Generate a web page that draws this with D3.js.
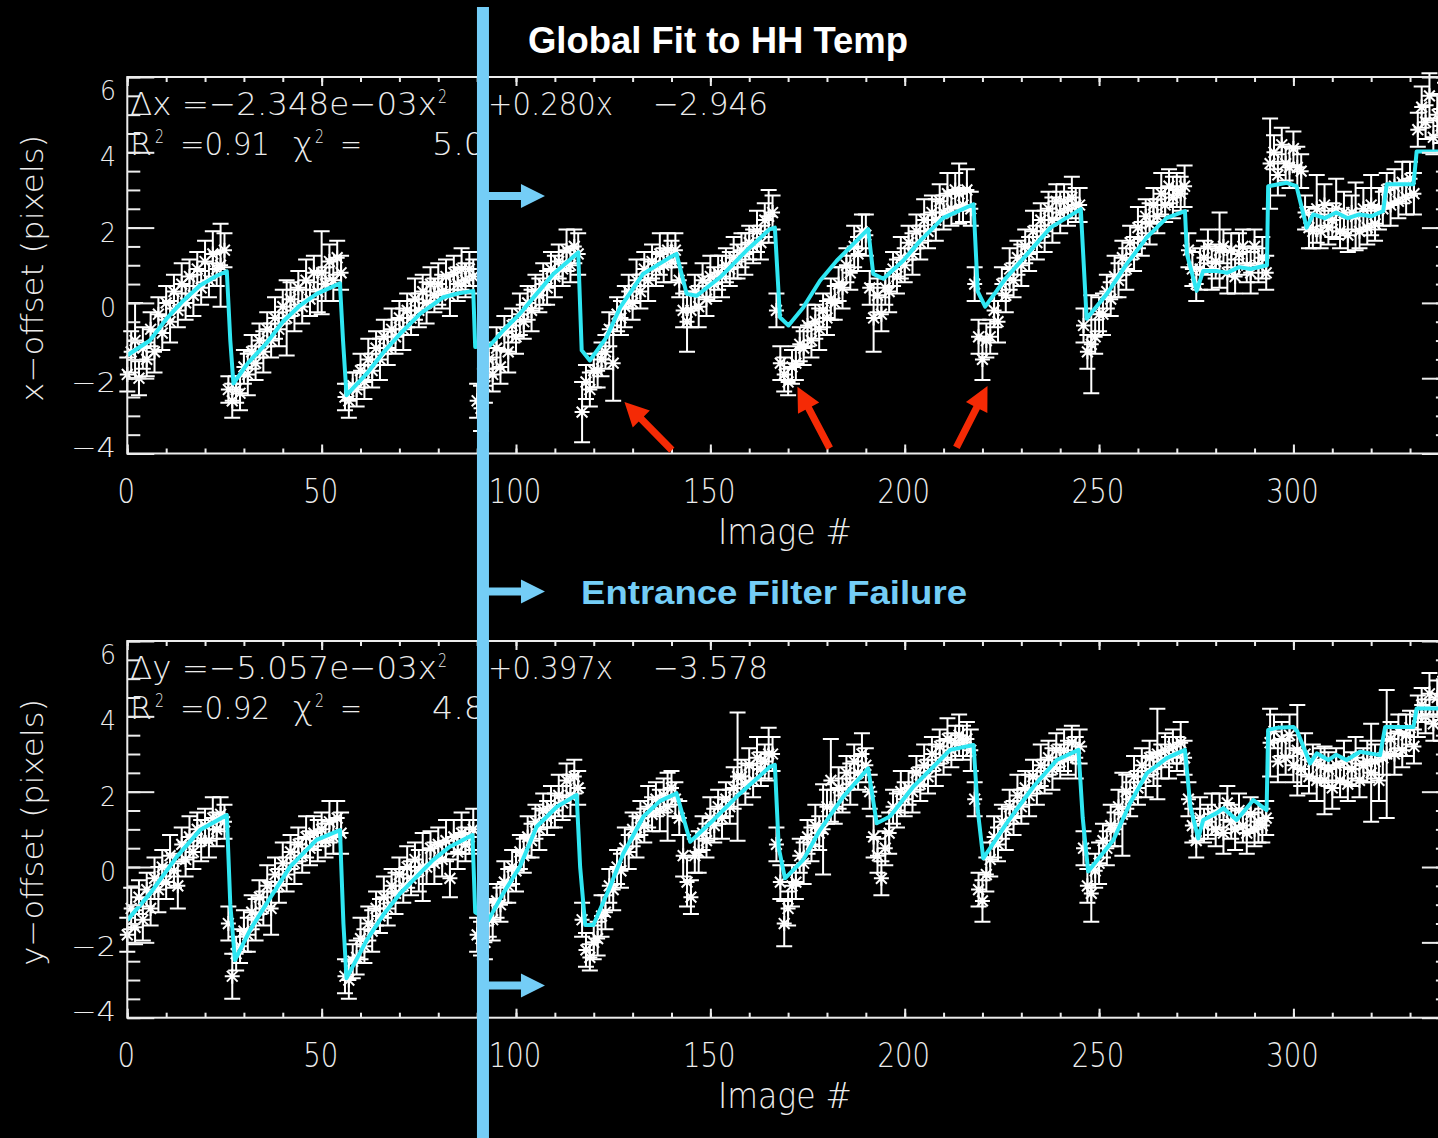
<!DOCTYPE html>
<html>
<head>
<meta charset="utf-8">
<script src="https://cdn.jsdelivr.net/npm/d3@7"></script>
<style>
  html, body { margin: 0; padding: 0; background: #000; }
  svg { display: block; }
</style>
</head>
<body>
<svg id="chart" width="1438" height="1138"></svg>
<script>
// ---- image numbers (one measurement per image) ----
const imageNo = d3.range(0, 340);

// ---- x-offset per image (pixels) ----
const xOffset = [
  -1.9,-1.3,-1.0,-2.0,-1.2,-1.5,-0.7,-1.3,-0.3,-0.8,
  0.0,-0.5,0.3,-0.2,0.5,0.0,0.7,0.2,0.9,0.4,
  1.1,0.6,1.3,0.9,1.0,1.4,-2.3,-2.6,-2.3,-2.4,
  -1.7,-1.9,-1.3,-1.6,-1.0,-1.3,-0.7,-1.0,-0.4,-0.7,
  -0.1,-0.4,0.1,-0.2,0.4,-0.1,0.6,0.1,0.8,0.3,
  0.8,0.5,1.1,0.6,1.2,0.8,-2.5,-2.6,-2.2,-2.3,
  -1.8,-2.1,-1.5,-1.8,-1.2,-1.5,-0.9,-1.2,-0.7,-0.9,
  -0.4,-0.7,-0.2,-0.4,0.1,-0.2,0.3,0.0,0.5,0.2,
  0.5,0.3,0.7,0.2,0.8,0.5,0.9,0.6,0.9,0.7,
  -2.6,-2.8,-2.2,-1.5,-1.9,-1.2,-1.7,-0.8,-1.3,-0.6,
  -0.9,-0.3,-0.5,0.0,-0.2,0.3,0.2,0.5,0.4,0.9,
  0.7,1.1,0.9,1.4,1.0,1.5,1.3,-2.9,-2.1,-2.3,
  -1.8,-1.8,-1.5,-1.3,-0.7,-1.6,-0.3,-0.4,-0.1,0.3,
  0.0,0.6,0.3,0.9,0.6,1.1,0.9,1.3,1.0,1.4,
  1.1,1.4,0.6,-0.2,-0.5,-0.2,0.3,-0.1,0.6,0.1,
  0.7,0.5,0.8,0.7,1.0,0.9,1.2,1.1,1.4,1.3,
  1.6,1.5,1.9,1.6,2.2,2.3,2.4,-0.2,-1.6,-1.9,
  -2.1,-1.7,-1.6,-1.1,-1.2,-0.6,-1.0,-0.5,-0.7,-0.2,
  -0.4,0.1,0.0,0.5,0.4,1.0,0.8,1.5,1.3,1.9,
  1.8,0.4,-0.4,0.2,-0.3,0.4,0.3,0.9,0.7,1.2,
  1.0,1.6,1.3,1.9,1.6,2.2,1.9,2.4,2.2,2.7,
  2.4,2.9,2.5,3.0,2.9,2.6,3.0,2.5,0.5,-0.9,
  -1.5,-1.0,-0.9,-0.2,-0.5,0.5,0.2,0.9,0.6,1.2,
  1.0,1.5,1.3,1.9,1.6,2.2,1.9,2.5,2.2,2.7,
  2.4,2.7,2.5,2.8,2.6,2.6,-0.6,-1.3,-1.1,-0.9,
  -0.3,-0.3,0.3,0.1,0.7,0.6,1.2,0.9,1.6,1.3,
  2.0,1.7,2.3,2.1,2.6,2.3,2.9,2.6,3.1,2.8,
  3.0,2.9,3.1,1.4,0.9,0.5,0.9,1.2,1.5,0.9,
  1.1,1.4,1.5,0.8,1.4,0.7,1.3,1.5,1.0,0.8,
  1.5,1.0,1.2,0.8,3.7,4.0,3.4,4.2,3.7,3.6,
  4.1,3.6,3.5,2.4,2.0,1.9,2.5,1.9,2.6,2.0,
  2.2,2.5,1.9,2.4,1.8,2.4,2.3,1.9,2.5,2.0,
  2.6,2.1,2.5,2.5,3.0,2.6,3.1,2.7,3.2,2.8,
  3.3,2.9,4.6,5.2,4.8,5.5,4.4,5.0,4.7,5.3
];
const xError = [
  0.45,0.55,1.0,0.45,0.55,0.45,0.45,0.55,0.45,0.45,
  0.45,0.55,0.45,0.45,0.55,0.45,0.45,0.55,0.45,0.45,
  0.55,0.45,0.6,0.45,1.1,0.45,0.35,0.45,0.35,0.45,
  0.45,0.55,0.45,0.45,0.45,0.55,0.45,0.45,0.55,0.45,
  0.45,1.0,0.45,0.55,0.45,0.45,0.55,0.45,0.45,0.55,
  1.1,0.45,0.45,0.55,0.45,0.45,0.35,0.45,0.35,0.45,
  0.45,0.45,0.55,0.45,0.45,0.55,0.45,0.45,0.55,0.45,
  0.45,0.55,0.45,0.45,0.55,0.45,0.45,0.55,0.45,0.45,
  0.55,0.45,0.45,0.55,0.45,0.45,0.55,0.45,0.45,0.45,
  0.45,0.6,0.45,0.45,0.45,0.55,0.45,0.45,0.55,0.45,
  0.45,0.55,0.45,0.45,0.55,0.45,0.45,0.55,0.45,0.45,
  0.55,0.45,0.45,0.55,0.45,0.45,0.55,0.8,0.45,0.45,
  0.45,0.45,0.45,0.45,0.45,1.0,0.45,0.45,0.55,0.45,
  0.45,0.55,0.45,0.45,0.55,0.45,0.45,0.55,0.45,0.45,
  0.55,0.45,0.45,0.45,0.8,0.45,0.45,0.55,0.45,0.45,
  0.55,0.45,0.45,0.55,0.45,0.45,0.55,0.45,0.45,0.55,
  0.45,0.45,0.55,0.45,0.45,0.7,0.45,0.45,0.45,0.45,
  0.35,0.45,0.45,0.45,0.45,0.55,0.45,0.45,0.55,0.45,
  0.45,0.55,0.45,0.45,0.55,0.45,0.45,0.55,0.45,0.45,
  0.55,0.45,0.9,0.45,0.45,0.45,0.55,0.45,0.45,0.55,
  0.45,0.45,0.55,0.45,0.45,0.55,0.45,0.45,0.55,0.45,
  0.45,0.55,0.45,0.45,0.8,0.45,0.55,0.45,0.45,0.45,
  0.55,0.45,0.45,0.45,0.55,0.45,0.45,0.55,0.45,0.45,
  0.55,0.45,0.45,0.55,0.45,0.45,0.55,0.45,0.6,0.45,
  0.55,0.45,0.45,0.55,0.45,0.45,0.45,0.45,1.3,0.45,
  0.45,0.55,0.45,0.45,0.55,0.45,0.45,0.55,0.45,0.45,
  0.55,0.45,0.45,0.55,0.45,0.45,0.55,0.45,0.45,0.55,
  0.45,0.45,0.55,0.45,0.45,0.45,0.55,0.45,0.45,0.55,
  0.45,1.0,0.45,0.55,0.45,0.45,0.55,0.45,0.45,0.55,
  0.45,0.45,0.55,0.45,1.2,0.45,0.55,0.45,0.45,0.55,
  0.45,0.55,0.45,0.45,0.55,0.45,0.9,0.45,0.55,0.45,
  0.45,0.8,0.45,0.55,0.45,0.45,0.9,0.45,0.55,0.45,
  0.8,0.45,0.55,0.45,0.45,0.55,0.45,0.45,0.55,0.45,
  0.45,0.55,0.45,0.55,0.45,0.6,0.45,0.55,0.45,0.55
];

// ---- y-offset per image (pixels) ----
const yOffset = [
  -1.8,-1.1,-1.6,-0.8,-1.4,-0.6,-1.1,-0.3,-0.6,0.0,
  -0.4,0.3,-0.1,-0.5,0.6,0.2,0.8,0.4,1.0,0.7,
  1.1,0.7,1.3,1.0,1.4,1.2,-1.5,-2.9,-2.3,-2.1,
  -1.7,-1.8,-1.2,-1.4,-0.8,-1.1,-0.5,-1.1,-0.2,-0.5,
  0.1,-0.2,0.4,0.1,0.6,0.3,0.8,0.5,0.9,0.7,
  1.0,0.7,1.2,0.8,1.3,0.9,-2.9,-3.0,-2.5,-2.4,
  -1.9,-2.1,-1.5,-1.7,-1.1,-1.3,-0.8,-1.1,-0.5,-0.7,
  -0.2,-0.5,0.0,-0.3,0.2,-0.1,0.0,0.0,0.5,0.1,
  0.6,0.2,0.7,-0.3,0.8,0.4,0.9,0.6,0.8,1.0,
  -1.8,-1.9,-2.0,-1.4,-1.4,-0.9,-1.0,-0.4,-0.5,0.0,
  -0.1,0.4,0.3,0.8,0.7,1.2,1.0,1.5,1.3,1.6,
  1.5,1.9,1.7,2.3,1.9,2.4,2.1,-1.4,-2.2,-2.4,
  -2.0,-1.9,-1.3,-1.2,-0.5,-0.6,0.0,-0.1,0.5,0.4,
  1.0,0.8,1.3,1.1,1.6,1.4,1.8,1.5,1.9,1.6,
  2.1,1.8,1.3,0.3,-0.4,-0.8,0.3,0.4,0.9,0.7,
  1.3,1.1,1.6,1.3,1.8,1.6,2.1,2.4,2.4,2.2,
  2.7,2.3,2.9,2.6,2.8,3.0,3.0,0.6,-0.4,-1.5,
  -1.1,-0.5,-0.4,0.3,0.1,0.8,0.6,1.1,0.9,1.0,
  1.6,2.3,1.6,2.1,1.9,2.5,2.2,2.8,2.5,3.0,
  2.7,2.0,0.8,0.3,-0.3,0.5,0.9,1.6,1.5,2.0,
  1.8,2.1,2.0,2.5,2.2,2.7,2.4,3.0,2.7,3.2,
  2.9,3.4,3.1,3.3,3.5,3.3,3.4,3.1,1.8,-0.6,
  -0.9,-0.2,0.2,0.8,0.6,1.2,1.0,1.6,1.3,1.9,
  1.6,2.1,1.9,2.4,2.1,2.7,2.4,2.9,2.6,3.1,
  2.8,3.1,2.9,3.3,2.9,3.2,0.5,-0.5,-0.7,-0.1,
  0.1,0.7,0.5,1.1,1.0,1.6,1.4,2.0,1.8,2.4,
  2.1,2.7,2.4,2.9,2.6,3.0,2.8,3.1,2.9,3.2,
  3.0,3.3,2.9,1.8,1.1,0.7,1.3,1.1,1.2,1.4,
  1.0,1.5,0.9,1.7,1.2,1.0,1.5,1.1,0.9,1.4,
  1.0,1.2,1.1,1.3,3.3,3.6,2.8,3.4,2.9,3.5,
  2.7,3.1,2.6,3.0,2.4,2.8,2.3,2.7,2.3,2.6,
  2.1,2.7,2.3,2.8,2.2,2.6,2.9,2.3,2.7,2.8,
  2.5,2.8,2.3,2.9,3.0,3.4,3.0,3.6,3.1,3.5,
  3.7,3.2,4.0,4.3,4.0,4.6,3.8,4.5,3.9,4.6
];
const yError = [
  0.45,0.55,0.45,0.45,0.55,0.45,0.45,0.55,0.6,0.45,
  0.45,0.55,0.45,0.6,0.45,0.45,0.55,0.45,0.45,0.55,
  0.45,0.45,0.55,0.45,0.45,0.45,0.45,0.6,0.45,0.45,
  0.55,0.45,0.45,0.55,0.45,0.45,0.55,0.7,0.45,0.45,
  0.55,0.45,0.45,0.55,0.45,0.45,0.55,0.45,0.45,0.55,
  0.45,0.45,0.55,0.45,0.45,0.55,0.45,0.5,0.45,0.45,
  0.55,0.45,0.45,0.55,0.45,0.45,0.55,0.45,0.45,0.55,
  0.45,0.45,0.55,0.45,0.45,0.55,0.9,0.45,0.45,0.55,
  0.45,0.45,0.55,0.5,0.45,0.45,0.55,0.45,0.45,0.55,
  0.45,0.45,0.45,0.45,0.55,0.45,0.45,0.55,0.45,0.45,
  0.55,0.45,0.45,0.55,0.45,0.45,0.55,0.45,0.45,0.55,
  0.45,0.55,0.45,0.45,0.55,0.45,0.45,0.45,0.45,0.35,
  0.45,0.45,0.55,0.45,0.45,0.55,0.45,0.45,0.55,0.45,
  0.45,0.55,0.45,0.45,0.55,0.45,0.45,0.55,0.45,0.9,
  0.45,0.45,0.45,0.55,0.65,0.45,0.45,0.55,0.45,0.45,
  0.55,0.45,0.45,0.55,0.45,0.45,0.55,1.7,0.45,0.55,
  0.45,0.45,0.55,0.45,0.45,0.7,0.45,0.45,0.45,0.6,
  0.45,0.55,0.45,0.45,0.55,0.45,0.45,0.55,0.45,1.2,
  0.45,1.1,0.45,0.55,0.45,0.45,0.55,0.45,0.45,0.55,
  0.45,0.45,0.55,0.45,0.45,0.45,0.55,0.45,0.45,0.55,
  0.45,0.45,0.55,0.45,0.45,0.55,0.45,0.45,0.55,0.45,
  0.45,0.55,0.45,0.45,0.55,0.45,0.45,0.55,0.45,0.45,
  0.55,0.45,0.45,0.55,0.45,0.45,0.55,0.45,0.45,0.55,
  0.45,0.45,0.55,0.45,0.45,0.55,0.45,0.45,0.55,0.45,
  0.45,0.55,0.45,0.45,0.55,0.45,0.45,0.45,0.75,0.45,
  0.55,0.45,0.45,0.55,0.45,0.45,1.1,0.45,0.45,0.55,
  0.45,0.45,0.55,0.45,0.45,1.2,0.45,0.45,0.55,0.45,
  0.45,0.55,0.45,0.45,0.45,0.45,0.55,0.45,0.45,0.55,
  0.45,0.45,0.55,0.45,0.45,0.55,0.45,0.45,0.55,0.45,
  0.45,0.55,0.45,0.45,0.9,0.45,0.55,0.45,0.45,0.55,
  0.45,1.2,0.45,0.55,0.45,0.45,0.55,0.45,0.9,0.45,
  0.55,0.45,0.45,0.55,0.45,0.45,0.55,0.45,0.45,0.55,
  1.3,0.45,0.55,0.45,1.7,0.45,0.55,0.45,0.45,0.55,
  0.45,0.45,0.55,0.45,0.45,0.55,0.45,0.45,0.55,0.45
];

// ---- global fit curves: [image #, offset] vertices ----
const xFit = [
  [0,-1.39],[5.8,-1.0],[10.1,-0.42],[14.4,0.06],[18.7,0.46],[23,0.72],[25.6,0.84],[26.5,-1.0],[27.3,-2.14],
  [31,-1.6],[35.9,-1.06],[40,-0.5],[44.4,-0.07],[48.7,0.24],[54.7,0.52],[55.5,-1.0],[56.4,-2.45],
  [61.6,-1.88],[66,-1.3],[70.2,-0.82],[75.3,-0.29],[81.3,0.15],[85,0.25],[89,0.32],[89.5,-1.17],
  [93.3,-1.13],[97,-0.7],[101,-0.29],[105.3,0.24],[109.6,0.77],[115.6,1.3],[116,1.34],[116.9,-1.26],
  [119,-1.53],[123.3,-0.91],[126.8,-0.12],[132.7,0.77],[139.6,1.21],[141.3,1.3],[143.9,0.24],[146.5,0.19],
  [152.5,0.68],[159.3,1.39],[165.3,1.96],[166.6,2.0],[167.9,-0.38],[170.1,-0.6],[173.9,-0.12],[178.2,0.59],
  [182.5,1.12],[190.2,1.92],[190.6,1.96],[191.9,0.77],[194.5,0.64],[199.6,1.12],[203.9,1.64],[209.9,2.26],
  [217.7,2.62],[218.8,0.3],[220.7,-0.1],[226.2,0.68],[233.1,1.48],[237.5,2.0],[245.3,2.49],[246.8,-0.42],
  [252,0.24],[257.1,1.03],[262.3,1.74],[267.4,2.26],[272.1,2.44],[272.6,1.3],[275.1,0.32],[276.8,0.85],
  [280,0.85],[283,0.8],[286,0.95],[289,0.9],[293.2,1.0],[293.5,3.1],[298.3,3.19],[300.8,3.1],[303.4,2.0],
  [305.1,2.35],[308,2.25],[311,2.4],[314,2.25],[317,2.35],[320,2.3],[323.1,2.44],[324,3.15],[330.9,3.15],
  [331.7,4.02],[340,4.02]
];
const yFit = [
  [0,-1.41],[5.9,-0.70],[12.7,0.27],[18.7,0.98],[25.6,1.38],[26.5,-1.0],[27.7,-2.47],[31.6,-1.67],
  [35.9,-0.96],[41.9,0.01],[48.7,0.72],[54.7,0.98],[55.6,-1.5],[56.4,-2.95],[61.6,-1.94],[66,-1.25],
  [70.2,-0.70],[78.7,0.19],[83,0.54],[88.8,0.85],[89.5,-1.2],[92.9,-1.41],[96.7,-0.70],[101,0.01],
  [105.3,1.07],[110.5,1.6],[115.6,1.91],[116.5,0],[117.8,-1.54],[119.9,-1.54],[124.2,-0.52],[127.6,0.36],
  [132.8,1.34],[137,1.75],[141.3,1.96],[144.8,0.67],[149.9,1.16],[156.8,1.87],[165.3,2.66],[166.6,2.71],
  [167.6,0.5],[169.2,-0.30],[173.9,0.19],[178.2,0.98],[184.2,1.87],[190.6,2.62],[192.8,1.16],[196.2,1.34],
  [202.2,2.13],[209.1,2.84],[211.7,3.11],[217.7,3.24],[218.8,1.5],[220.2,0.23],[226.2,1.16],[233.1,2.13],
  [239.1,2.84],[244.7,3.11],[245.8,1.3],[247.2,-0.12],[253.7,0.72],[258,1.7],[262.3,2.49],[267.4,2.89],
  [272.1,3.11],[273.5,1.6],[275.5,0.76],[276.8,1.25],[280.2,1.43],[282,1.56],[285.4,1.25],[289.7,1.78],
  [293.1,1.51],[293.5,3.64],[296,3.7],[300,3.72],[301,3.6],[304.3,2.75],[306,3.02],[309,2.84],[311,2.98],
  [313.7,2.84],[317.1,3.06],[322.3,2.97],[323.6,3.72],[330.9,3.72],[331.7,4.21],[340,4.21]
];

// ---- axes ----
const xTicks = [0, 50, 100, 150, 200, 250, 300];
const yTicks = [-4, -2, 0, 2, 4, 6];
const filterFailureImage = 91.5;

// red arrows in the x-offset panel: [tail image, tail offset, tip image, tip offset]
const redArrows = [
  [140.1, -3.91, 127.9, -2.63],
  [180.7, -3.86, 172.4, -2.23],
  [213.3, -3.84, 221.3, -2.21]
];

// ---- styling ----
const AX = "#ececec";
const CYAN = "#2fe6f2";
const SKY = "#74cdf6";
const RED = "#f52a05";
const HFONT = '"DejaVu Sans", sans-serif';
const BFONT = '"Liberation Sans", Arial, sans-serif';

const svg = d3.select("#chart");
svg.append("rect").attr("width", 1438).attr("height", 1138).attr("fill", "#000");

const x = d3.scaleLinear().domain([0, 340]).range([127.3, 1448.9]);

function label(g, str, px, py, size, len, anchor) {
  const t = g.append("text")
    .attr("x", px).attr("y", py)
    .attr("fill", AX)
    .attr("font-family", HFONT)
    .attr("font-weight", 200)
    .attr("font-size", size)
    .attr("text-anchor", anchor || "start")
    .text(str);
  if (len) t.attr("textLength", len).attr("lengthAdjust", "spacingAndGlyphs");
  return t;
}

const panels = [
  { vals: xOffset, errs: xError, fit: xFit, y: d3.scaleLinear().domain([-4, 6]).range([453.5, 77]),
    title: "x\u2212offset (pixels)",
    eq: ["\u0394x =\u22122.348e\u221203x", "+0.280x", "\u22122.946"], r2: "=0.91", chi: "5.0" },
  { vals: yOffset, errs: yError, fit: yFit, y: d3.scaleLinear().domain([-4, 6]).range([1017.7, 641]),
    title: "y\u2212offset (pixels)",
    eq: ["\u0394y =\u22125.057e\u221203x", "+0.397x", "\u22123.578"], r2: "=0.92", chi: "4.8" }
];

// asterisk symbol
const r = 7.5, a = r * 0.72;
const starPath = `M${-r},0H${r}M0,${-r}V${r}M${-a},${-a}L${a},${a}M${-a},${a}L${a},${-a}`;

panels.forEach((p, pi) => {
  const y = p.y;
  const g = svg.append("g");
  const y0 = y(-4), y1 = y(6);

  // measurements: error bars + asterisks
  const pts = imageNo.map(i => ({ i, v: p.vals[i], e: p.errs[i] }));
  const cap = 8;
  g.append("g").attr("stroke", "#fff").attr("stroke-width", 2).attr("fill", "none")
    .selectAll("path.err").data(pts).join("path")
    .attr("d", d => {
      const cx = x(d.i), ya = y(d.v + d.e), yb = y(d.v - d.e);
      return `M${cx},${ya}V${yb}M${cx - cap},${ya}H${cx + cap}M${cx - cap},${yb}H${cx + cap}`;
    });
  g.append("g").attr("stroke", "#fff").attr("stroke-width", 2).attr("fill", "none")
    .selectAll("path.pt").data(pts).join("path")
    .attr("transform", d => `translate(${x(d.i)},${y(d.v)})`)
    .attr("d", starPath);

  // fit curve
  g.append("path").datum(p.fit)
    .attr("fill", "none").attr("stroke", CYAN).attr("stroke-width", 4)
    .attr("stroke-linejoin", "round")
    .attr("d", d3.line().x(d => x(d[0])).y(d => y(d[1])));

  // frame and ticks
  g.append("rect").attr("x", x(0)).attr("y", y1).attr("width", x(340) - x(0)).attr("height", y0 - y1)
    .attr("fill", "none").attr("stroke", AX).attr("stroke-width", 2);

  const tickAxis = (axis, tx, ty) => g.append("g")
    .attr("transform", `translate(${tx},${ty})`)
    .attr("color", AX).attr("stroke-width", 2)
    .call(axis)
    .call(s => s.select(".domain").remove())
    .call(s => s.selectAll("text").remove());

  const xMinor = d3.range(0, 341, 10);
  const yMinor = d3.range(-4, 6.01, 0.5);
  tickAxis(d3.axisBottom(x).tickValues(xMinor).tickSize(-5), 0, y0);
  tickAxis(d3.axisBottom(x).tickValues(xTicks).tickSize(-9), 0, y0);
  tickAxis(d3.axisTop(x).tickValues(xMinor).tickSize(-5), 0, y1);
  tickAxis(d3.axisTop(x).tickValues(xTicks).tickSize(-9), 0, y1);
  tickAxis(d3.axisLeft(y).tickValues(yMinor).tickSize(-13), x(0), 0);
  tickAxis(d3.axisLeft(y).tickValues(yTicks).tickSize(-27), x(0), 0);
  tickAxis(d3.axisRight(y).tickValues(yMinor).tickSize(-13), x(340), 0);
  tickAxis(d3.axisRight(y).tickValues(yTicks).tickSize(-27), x(340), 0);

  // tick labels
  xTicks.forEach(t => label(g, String(t), x(t) - 1, y0 + 49, 34, String(t).length * 17.5, "middle"));
  yTicks.forEach(t => {
    const off = t === 6 ? 13 : (t === -4 ? -7 : 4);
    const s = t < 0 ? "\u2212" + Math.abs(t) : String(t);
    label(g, s, 116, y(t) + off + 10, 27, t < 0 ? 45 : 16, "end");
  });

  // axis titles
  label(g, "Image #", 785, y0 + 90, 35, 134, "middle");
  label(g, p.title, 0, 0, 31, 267, "middle")
    .attr("transform", `translate(43,${(y0 + y1) / 2 + 3}) rotate(-90)`);

  // fit equation
  const b1 = y1 + 38, b2 = y1 + 78;
  label(g, p.eq[0], 130, b1, 32, 307);
  label(g, "2", 438, b1 - 12, 19, 9);
  label(g, p.eq[1], 488, b1, 32, 125);
  label(g, p.eq[2], 653, b1, 32, 115);
  label(g, "R", 130, b2, 32, 22);
  label(g, "2", 155, b2 - 12, 19, 9);
  label(g, p.r2, 180, b2, 32, 90);
  label(g, "\u03c7", 293, b2, 32, 20);
  label(g, "2", 315, b2 - 12, 19, 9);
  label(g, "=", 340, b2, 32, 22);
  label(g, p.chi, 432, b2, 32, 53);

  // red arrows marking the dips
  if (pi === 0) {
    svg.append("g").attr("fill", RED).selectAll("path").data(redArrows).join("path")
      .attr("d", d => {
        const x0 = x(d[0]), yy0 = y(d[1]), x1 = x(d[2]), yy1 = y(d[3]);
        const dx = x1 - x0, dy = yy1 - yy0, L = Math.hypot(dx, dy);
        const ux = dx / L, uy = dy / L, nx = -uy, ny = ux;
        const hl = 24, hw = 12, sw = 3.6;
        const bx = x1 - ux * hl, by = yy1 - uy * hl;
        const pt = (px, py) => `${px},${py}`;
        return "M" + [
          pt(x0 + nx * sw, yy0 + ny * sw), pt(bx + nx * sw, by + ny * sw), pt(bx + nx * hw, by + ny * hw),
          pt(x1, yy1), pt(bx - nx * hw, by - ny * hw), pt(bx - nx * sw, by - ny * sw), pt(x0 - nx * sw, yy0 - ny * sw)
        ].join("L") + "Z";
      });
  }
});

// filter-failure marker line and arrows
const fx = x(filterFailureImage);
svg.append("rect").attr("x", fx - 6).attr("y", 7).attr("width", 12).attr("height", 1131).attr("fill", SKY);
[196, 591.5, 985.5].forEach(cy => {
  svg.append("path").attr("fill", SKY)
    .attr("d", `M${fx + 5},${cy - 4}H${fx + 38}V${cy - 12}L${fx + 62},${cy}L${fx + 38},${cy + 12}V${cy + 4}H${fx + 5}Z`);
});

svg.append("text").attr("x", 528).attr("y", 53)
  .attr("fill", "#fff").attr("font-family", BFONT).attr("font-weight", "bold").attr("font-size", 36)
  .attr("textLength", 380).attr("lengthAdjust", "spacingAndGlyphs")
  .text("Global Fit to HH Temp");
svg.append("text").attr("x", 581).attr("y", 604)
  .attr("fill", SKY).attr("font-family", BFONT).attr("font-weight", "bold").attr("font-size", 34)
  .attr("textLength", 386).attr("lengthAdjust", "spacingAndGlyphs")
  .text("Entrance Filter Failure");
</script>
</body>
</html>
